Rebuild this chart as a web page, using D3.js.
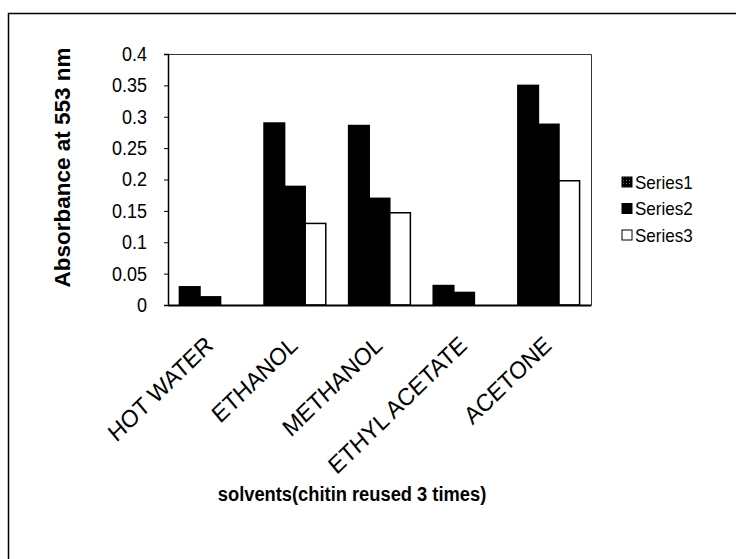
<!DOCTYPE html>
<html>
<head>
<meta charset="utf-8">
<script src="https://cdn.jsdelivr.net/npm/d3@7"></script>
<style>
  html, body { margin: 0; padding: 0; background: #fff; }
  svg { display: block; font-family: "Liberation Sans", Arial, sans-serif; }
</style>
</head>
<body>
<svg id="chart" width="736" height="559"></svg>
<script>
// Solvents tested for chitin reuse, absorbance at 553 nm per run
const categories = ["HOT WATER", "ETHANOL", "METHANOL", "ETHYL ACETATE", "ACETONE"];
const seriesNames = ["Series1", "Series2", "Series3"];
const series1 = [0.029, 0.29, 0.286, 0.031, 0.35];
const series2 = [0.013, 0.189, 0.17, 0.02, 0.288];
const series3 = [0, 0.13, 0.147, 0, 0.198];
const yTicks = [0, 0.05, 0.1, 0.15, 0.2, 0.25, 0.3, 0.35, 0.4];
const yTickLabels = ["0", "0.05", "0.1", "0.15", "0.2", "0.25", "0.3", "0.35", "0.4"];

const seriesValues = [series1, series2, series3];
const table = categories.map((c, i) => ({
  category: c,
  values: seriesNames.map((s, k) => ({ series: s, value: seriesValues[k][i] }))
}));

const svg = d3.select("#chart");

// pattern for the first series swatch (dense dark hatch)
const defs = svg.append("defs");
const pat = defs.append("pattern")
  .attr("id", "darkHatch").attr("patternUnits", "userSpaceOnUse")
  .attr("width", 3).attr("height", 3);
pat.append("rect").attr("width", 3).attr("height", 3).attr("fill", "#000");
pat.append("rect").attr("x", 1).attr("y", 1).attr("width", 1).attr("height", 1).attr("fill", "#666");

const fills = { Series1: "#000", Series2: "#000", Series3: "#fff" };
const legendFills = { Series1: "url(#darkHatch)", Series2: "#000", Series3: "#fff" };

// outer chart frame
svg.append("rect")
  .attr("x", 8.5).attr("y", 13.5).attr("width", 760).attr("height", 600)
  .attr("fill", "none").attr("stroke", "#000").attr("stroke-width", 1.5);

const plot = { left: 168, top: 54, right: 591, bottom: 305 };

const x0 = d3.scaleBand()
  .domain(categories)
  .range([plot.left, plot.right])
  .paddingInner(0.27).paddingOuter(0.135);
const x1 = d3.scaleBand()
  .domain(seriesNames)
  .range([0, x0.bandwidth()]);
const y = d3.scaleLinear().domain([0, 0.4]).range([plot.bottom, plot.top]);

// plot area border (top and right)
svg.append("path")
  .attr("d", `M${plot.left},${plot.top + 0.5}H${plot.right + 0.5}V${plot.bottom}`)
  .attr("fill", "none").attr("stroke", "#333").attr("stroke-width", 1);

// bars
const groups = svg.append("g").selectAll("g")
  .data(table).join("g")
  .attr("transform", d => `translate(${x0(d.category)},0)`);
groups.selectAll("rect")
  .data(d => d.values.filter(v => v.value > 0))
  .join("rect")
  .attr("x", v => x1(v.series))
  .attr("y", v => y(v.value))
  .attr("width", x1.bandwidth())
  .attr("height", v => y(0) - y(v.value))
  .attr("fill", v => fills[v.series])
  .attr("stroke", "#000").attr("stroke-width", 1.5);

// y axis
const yAxis = d3.axisLeft(y)
  .tickValues(yTicks)
  .tickFormat((d, i) => yTickLabels[i])
  .tickSize(4).tickPadding(17);
const gy = svg.append("g").attr("transform", `translate(${plot.left},0)`).call(yAxis);
gy.select(".domain").attr("stroke", "#000").attr("stroke-width", 1.5);
gy.selectAll(".tick line").attr("stroke", "#000");
gy.selectAll(".tick text")
  .attr("font-size", 18).attr("fill", "#000")
  .attr("font-family", "'Liberation Sans', Arial, sans-serif")
  .attr("transform", "scale(1,1.12)");

// x axis: labels rotated, right end of each label just left of its category centre
const xAxis = d3.axisBottom(x0).tickSize(0).tickPadding(0);
const gx = svg.append("g").attr("transform", `translate(0,${plot.bottom})`).call(xAxis);
gx.select(".domain").attr("stroke", "#000").attr("stroke-width", 2);
gx.selectAll(".tick text")
  .attr("font-size", 22.5).attr("fill", "#000")
  .attr("font-family", "'Liberation Sans', Arial, sans-serif")
  .attr("text-anchor", "end")
  .attr("y", 0).attr("x", 0)
  .attr("dy", "0.35em")
  .attr("transform", "translate(-1,36) scale(1,1.08) rotate(-42)");

// axis titles
svg.append("text")
  .attr("transform", `translate(70,${(plot.top + plot.bottom) / 2 - 12}) rotate(-90)`)
  .attr("text-anchor", "middle")
  .attr("font-size", 22.5).attr("font-weight", "bold")
  .text("Absorbance at 553 nm");

svg.append("text")
  .attr("transform", "translate(352,501) scale(1,1.15)")
  .attr("text-anchor", "middle")
  .attr("font-size", 18.3).attr("font-weight", "bold")
  .text("solvents(chitin reused 3 times)");

// legend
const legend = svg.append("g").selectAll("g")
  .data(seriesNames).join("g")
  .attr("transform", (d, i) => `translate(622,${182 + i * 26.5})`);
legend.append("rect")
  .attr("x", 0).attr("y", -5).attr("width", 10).attr("height", 10)
  .attr("fill", d => legendFills[d])
  .attr("stroke", "#000").attr("stroke-width", 1);
legend.append("text")
  .attr("x", 13).attr("y", 0).attr("dy", "0.36em")
  .attr("font-size", 17)
  .attr("transform", "scale(1,1.1)")
  .text(d => d);
</script>
</body>
</html>
